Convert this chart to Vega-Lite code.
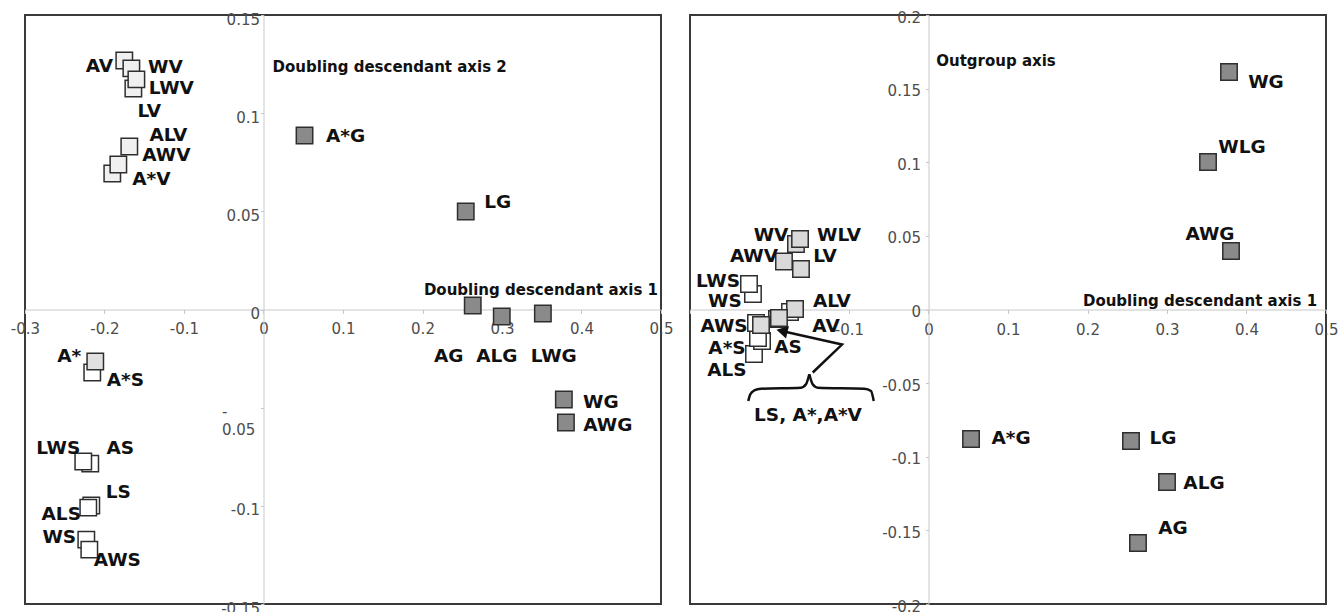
{
  "$schema": "https://vega.github.io/schema/vega-lite/v6.json",
  "padding": {"left": 9, "top": 9, "right": 5, "bottom": 5},
  "background": "white",
  "config": {
    "view": {"stroke": "#3a3a3a", "strokeWidth": 2},
    "axis": {"domainColor": "#c8c8c8", "tickColor": "#c8c8c8", "grid": false, "labelFont": "DejaVu Sans", "labelFontSize": 15, "labelColor": "#4d4d4d", "labelFlush": false, "labelOverlap": false, "labelBound": false}
  },
  "datasets": {
    "left": [
      {"name": "AV", "type": "V", "x": -0.1751, "y": 0.1268, "lx": -0.2065, "ly": 0.1238},
      {"name": "WV", "type": "V", "x": -0.1662, "y": 0.1228, "lx": -0.1234, "ly": 0.1233},
      {"name": "LV", "type": "V", "x": -0.1637, "y": 0.1126, "lx": -0.1436, "ly": 0.1009},
      {"name": "LWV", "type": "V", "x": -0.1599, "y": 0.1172, "lx": -0.1159, "ly": 0.1126},
      {"name": "A*V", "type": "V", "x": -0.1902, "y": 0.0693, "lx": -0.1411, "ly": 0.0667},
      {"name": "AWV", "type": "V", "x": -0.1826, "y": 0.0739, "lx": -0.1222, "ly": 0.0785},
      {"name": "ALV", "type": "V", "x": -0.1688, "y": 0.083, "lx": -0.1196, "ly": 0.0891},
      {"name": "A*S", "type": "S", "x": -0.2154, "y": -0.0321, "lx": -0.1738, "ly": -0.0357},
      {"name": "A*", "type": "A", "x": -0.2116, "y": -0.0265, "lx": -0.2443, "ly": -0.0239},
      {"name": "AS", "type": "S", "x": -0.2179, "y": -0.0785, "lx": -0.1801, "ly": -0.0703},
      {"name": "LWS", "type": "S", "x": -0.2267, "y": -0.0774, "lx": -0.2582, "ly": -0.0703},
      {"name": "LS", "type": "S", "x": -0.2166, "y": -0.0998, "lx": -0.1826, "ly": -0.0927},
      {"name": "ALS", "type": "S", "x": -0.2204, "y": -0.1009, "lx": -0.2544, "ly": -0.1044},
      {"name": "WS", "type": "S", "x": -0.2229, "y": -0.1172, "lx": -0.2569, "ly": -0.1161},
      {"name": "AWS", "type": "S", "x": -0.2191, "y": -0.1223, "lx": -0.1839, "ly": -0.1274},
      {"name": "A*G", "type": "G", "x": 0.0516, "y": 0.0886, "lx": 0.1033, "ly": 0.0886},
      {"name": "LG", "type": "G", "x": 0.2544, "y": 0.0499, "lx": 0.2947, "ly": 0.0545},
      {"name": "AG", "type": "G", "x": 0.2632, "y": 0.002, "lx": 0.233, "ly": -0.0239},
      {"name": "ALG", "type": "G", "x": 0.2997, "y": -0.0036, "lx": 0.2935, "ly": -0.0239},
      {"name": "LWG", "type": "G", "x": 0.3514, "y": -0.002, "lx": 0.3652, "ly": -0.0239},
      {"name": "WG", "type": "G", "x": 0.3778, "y": -0.0458, "lx": 0.4244, "ly": -0.0469},
      {"name": "AWG", "type": "G", "x": 0.3804, "y": -0.0576, "lx": 0.4332, "ly": -0.0586}
    ],
    "right": [
      {"name": "WV", "type": "V", "x": -0.1667, "y": 0.0445, "lx": -0.1981, "ly": 0.0506},
      {"name": "WLV", "type": "V", "x": -0.1616, "y": 0.0479, "lx": -0.1126, "ly": 0.0506},
      {"name": "AWV", "type": "V", "x": -0.1818, "y": 0.0326, "lx": -0.2195, "ly": 0.0363},
      {"name": "LV", "type": "V", "x": -0.1604, "y": 0.0275, "lx": -0.1302, "ly": 0.0363},
      {"name": "WS", "type": "S", "x": -0.2208, "y": 0.0105, "lx": -0.256, "ly": 0.0058},
      {"name": "LWS", "type": "S", "x": -0.2258, "y": 0.0173, "lx": -0.2648, "ly": 0.0194},
      {"name": "LS", "type": "S", "x": -0.1742, "y": -0.0017, "lx": null, "ly": null},
      {"name": "ALV", "type": "V", "x": -0.1679, "y": 0.0003, "lx": -0.1214, "ly": 0.0058},
      {"name": "A*V", "type": "V", "x": -0.1906, "y": -0.0065, "lx": null, "ly": null},
      {"name": "AV", "type": "V", "x": -0.1881, "y": -0.0058, "lx": -0.1289, "ly": -0.0112},
      {"name": "ALS", "type": "S", "x": -0.2195, "y": -0.0302, "lx": -0.2535, "ly": -0.0411},
      {"name": "AS", "type": "S", "x": -0.2094, "y": -0.0214, "lx": -0.1767, "ly": -0.0255},
      {"name": "A*S", "type": "S", "x": -0.2145, "y": -0.0194, "lx": -0.2535, "ly": -0.0261},
      {"name": "AWS", "type": "S", "x": -0.217, "y": -0.0092, "lx": -0.2572, "ly": -0.0112},
      {"name": "A*", "type": "A", "x": -0.2107, "y": -0.0105, "lx": null, "ly": null},
      {"name": "WG", "type": "G", "x": 0.378, "y": 0.1613, "lx": 0.4245, "ly": 0.1545},
      {"name": "WLG", "type": "G", "x": 0.3516, "y": 0.1002, "lx": 0.3943, "ly": 0.1104},
      {"name": "AWG", "type": "G", "x": 0.3805, "y": 0.0397, "lx": 0.3541, "ly": 0.0513},
      {"name": "A*G", "type": "G", "x": 0.0535, "y": -0.0879, "lx": 0.1038, "ly": -0.0873},
      {"name": "LG", "type": "G", "x": 0.2547, "y": -0.0893, "lx": 0.295, "ly": -0.0873},
      {"name": "ALG", "type": "G", "x": 0.3, "y": -0.1171, "lx": 0.3465, "ly": -0.1178},
      {"name": "AG", "type": "G", "x": 0.2635, "y": -0.1586, "lx": 0.3075, "ly": -0.1484}
    ],
    "notesLeft": [
      {"kind": "axis", "text": "Doubling descendant axis 2", "x": 0.1587, "y": 0.1233},
      {"kind": "axis", "text": "Doubling descendant axis 1", "x": 0.349, "y": 0.0097}
    ],
    "notesRight": [
      {"kind": "axis", "text": "Outgroup axis", "x": 0.0849, "y": 0.1688},
      {"kind": "axis", "text": "Doubling descendant axis 1", "x": 0.3415, "y": 0.0058},
      {"kind": "group", "text": "LS, A*,A*V", "x": -0.1516, "y": -0.0716}
    ],
    "shapes": [
      {"part": "braceL", "i": 0, "x": -0.2267, "y": -0.0621},
      {"part": "braceL", "i": 1, "x": -0.2242, "y": -0.0576},
      {"part": "braceL", "i": 2, "x": -0.2191, "y": -0.0549},
      {"part": "braceL", "i": 3, "x": -0.2107, "y": -0.0538},
      {"part": "braceL", "i": 4, "x": -0.1604, "y": -0.0531},
      {"part": "braceL", "i": 5, "x": -0.1541, "y": -0.0508},
      {"part": "braceL", "i": 6, "x": -0.1499, "y": -0.044},
      {"part": "braceR", "i": 0, "x": -0.1499, "y": -0.044},
      {"part": "braceR", "i": 1, "x": -0.1457, "y": -0.0508},
      {"part": "braceR", "i": 2, "x": -0.1394, "y": -0.0531},
      {"part": "braceR", "i": 3, "x": -0.0808, "y": -0.0538},
      {"part": "braceR", "i": 4, "x": -0.0723, "y": -0.0553},
      {"part": "braceR", "i": 5, "x": -0.0689, "y": -0.0621},
      {"part": "arrow", "i": 0, "x": -0.1456, "y": -0.0428},
      {"part": "arrow", "i": 1, "x": -0.1088, "y": -0.0238},
      {"part": "arrow", "i": 2, "x": -0.1818, "y": -0.015},
      {"part": "head", "i": 0, "x": -0.1843, "y": -0.0146}
    ]
  },
  "spacing": 29,
  "bounds": "flush",
  "resolve": {"scale": {"x": "independent", "y": "independent", "fill": "independent"}},
  "hconcat": [
    {
      "width": 636,
      "height": 589,
      "layer": [
        {
          "data": {"name": "left"},
          "mark": {"type": "point", "shape": "square", "filled": true, "size": 270, "stroke": "#2e2e2e", "strokeWidth": 1.5, "opacity": 1},
          "encoding": {
            "x": {"field": "x", "type": "quantitative", "title": null,
              "scale": {"domain": [-0.3, 0.5], "nice": false, "zero": false},
              "axis": {"values": [-0.3, -0.2, -0.1, 0, 0.1, 0.2, 0.3, 0.4, 0.5], "offset": -294.5, "tickSize": 4, "labelPadding": 8,
                "labelExpr": "replace(format(datum.value, '~g'), '\u2212', '-')"}},
            "y": {"field": "y", "type": "quantitative", "title": null,
              "scale": {"domain": [-0.15, 0.15], "nice": false, "zero": false},
              "axis": {"values": [-0.15, -0.1, -0.05, 0, 0.05, 0.1, 0.15], "offset": -238.5, "tickSize": 3, "labelLineHeight": 18,
                "labelPadding": {"condition": {"test": "abs(datum.value + 0.05) < 1e-6", "value": 39}, "value": 1},
                "labelAlign": {"condition": {"test": "abs(datum.value + 0.05) < 1e-6", "value": "left"}, "value": "right"},
                "labelOffset": {"condition": {"test": "abs(datum.value + 0.05) < 1e-6", "value": 4}, "value": 4},
                "labelExpr": "abs(datum.value + 0.05) < 1e-6 ? ['-', '0.05'] : replace(format(datum.value, '~g'), '\u2212', '-')"}},
            "fill": {"field": "type", "type": "nominal", "legend": null,
              "scale": {"domain": ["G", "V", "S", "A"], "range": ["#8a8a8a", "#f0f0f0", "#ffffff", "#e0e0e0"]}}
          }
        },
        {
          "data": {"name": "left"},
          "mark": {"type": "text", "font": "DejaVu Sans", "fontWeight": "bold", "fontSize": 18.5, "color": "#111111", "align": "center", "baseline": "middle"},
          "encoding": {
            "x": {"field": "lx", "type": "quantitative", "title": null, "scale": {"domain": [-0.3, 0.5], "nice": false, "zero": false}},
            "y": {"field": "ly", "type": "quantitative", "title": null, "scale": {"domain": [-0.15, 0.15], "nice": false, "zero": false}},
            "text": {"field": "name"}
          }
        },
        {
          "data": {"name": "notesLeft"},
          "mark": {"type": "text", "font": "DejaVu Sans", "fontWeight": "bold", "fontSize": 15, "color": "#111111", "align": "center", "baseline": "middle"},
          "encoding": {
            "x": {"field": "x", "type": "quantitative", "title": null, "scale": {"domain": [-0.3, 0.5], "nice": false, "zero": false}},
            "y": {"field": "y", "type": "quantitative", "title": null, "scale": {"domain": [-0.15, 0.15], "nice": false, "zero": false}},
            "text": {"field": "text"}
          }
        }
      ]
    },
    {
      "width": 636,
      "height": 589,
      "layer": [
        {
          "data": {"name": "right"},
          "mark": {"type": "point", "shape": "square", "filled": true, "size": 270, "stroke": "#2e2e2e", "strokeWidth": 1.5, "opacity": 1},
          "encoding": {
            "x": {"field": "x", "type": "quantitative", "title": null,
              "scale": {"domain": [-0.3, 0.5], "nice": false, "zero": false},
              "axis": {"values": [-0.3, -0.2, -0.1, 0, 0.1, 0.2, 0.3, 0.4, 0.5], "offset": -294.5, "tickSize": 4, "labelPadding": 9,
                "labelExpr": "datum.value < -0.15 ? '' : replace(format(datum.value, '~g'), '\u2212', '-')"}},
            "y": {"field": "y", "type": "quantitative", "title": null,
              "scale": {"domain": [-0.2, 0.2], "nice": false, "zero": false},
              "axis": {"values": [-0.2, -0.15, -0.1, -0.05, 0, 0.05, 0.1, 0.15, 0.2], "offset": -238.5, "tickSize": 3, "labelPadding": 5, "labelOffset": 2,
                "labelExpr": "replace(format(datum.value, '~g'), '\u2212', '-')"}},
            "fill": {"field": "type", "type": "nominal", "legend": null,
              "scale": {"domain": ["G", "V", "S", "A"], "range": ["#8a8a8a", "#d9d9d9", "#ffffff", "#dcdcdc"]}}
          }
        },
        {
          "data": {"name": "right"},
          "transform": [{"filter": "datum.lx != null"}],
          "mark": {"type": "text", "font": "DejaVu Sans", "fontWeight": "bold", "fontSize": 18.5, "color": "#111111", "align": "center", "baseline": "middle"},
          "encoding": {
            "x": {"field": "lx", "type": "quantitative", "title": null, "scale": {"domain": [-0.3, 0.5], "nice": false, "zero": false}},
            "y": {"field": "ly", "type": "quantitative", "title": null, "scale": {"domain": [-0.2, 0.2], "nice": false, "zero": false}},
            "text": {"field": "name"}
          }
        },
        {
          "data": {"name": "notesRight"},
          "transform": [{"filter": "datum.kind == 'axis'"}],
          "mark": {"type": "text", "font": "DejaVu Sans", "fontWeight": "bold", "fontSize": 15, "color": "#111111", "align": "center", "baseline": "middle"},
          "encoding": {
            "x": {"field": "x", "type": "quantitative", "title": null, "scale": {"domain": [-0.3, 0.5], "nice": false, "zero": false}},
            "y": {"field": "y", "type": "quantitative", "title": null, "scale": {"domain": [-0.2, 0.2], "nice": false, "zero": false}},
            "text": {"field": "text"}
          }
        },
        {
          "data": {"name": "notesRight"},
          "transform": [{"filter": "datum.kind == 'group'"}],
          "mark": {"type": "text", "font": "DejaVu Sans", "fontWeight": "bold", "fontSize": 18.5, "color": "#111111", "align": "center", "baseline": "middle"},
          "encoding": {
            "x": {"field": "x", "type": "quantitative", "title": null, "scale": {"domain": [-0.3, 0.5], "nice": false, "zero": false}},
            "y": {"field": "y", "type": "quantitative", "title": null, "scale": {"domain": [-0.2, 0.2], "nice": false, "zero": false}},
            "text": {"field": "text"}
          }
        },
        {
          "data": {"name": "shapes"},
          "transform": [{"filter": "datum.part == 'braceL' || datum.part == 'braceR'"}],
          "mark": {"type": "line", "interpolate": "monotone", "stroke": "#111111", "strokeWidth": 2.5},
          "encoding": {
            "x": {"field": "x", "type": "quantitative", "title": null, "scale": {"domain": [-0.3, 0.5], "nice": false, "zero": false}},
            "y": {"field": "y", "type": "quantitative", "title": null, "scale": {"domain": [-0.2, 0.2], "nice": false, "zero": false}},
            "detail": {"field": "part"},
            "order": {"field": "i"}
          }
        },
        {
          "data": {"name": "shapes"},
          "transform": [{"filter": "datum.part == 'arrow'"}],
          "mark": {"type": "line", "stroke": "#111111", "strokeWidth": 2.5},
          "encoding": {
            "x": {"field": "x", "type": "quantitative", "title": null, "scale": {"domain": [-0.3, 0.5], "nice": false, "zero": false}},
            "y": {"field": "y", "type": "quantitative", "title": null, "scale": {"domain": [-0.2, 0.2], "nice": false, "zero": false}},
            "order": {"field": "i"}
          }
        },
        {
          "data": {"name": "shapes"},
          "transform": [{"filter": "datum.part == 'head'"}],
          "mark": {"type": "point", "shape": "triangle-left", "filled": true, "size": 170, "angle": 13, "color": "#111111", "opacity": 1},
          "encoding": {
            "x": {"field": "x", "type": "quantitative", "title": null, "scale": {"domain": [-0.3, 0.5], "nice": false, "zero": false}},
            "y": {"field": "y", "type": "quantitative", "title": null, "scale": {"domain": [-0.2, 0.2], "nice": false, "zero": false}}
          }
        }
      ]
    }
  ]
}
